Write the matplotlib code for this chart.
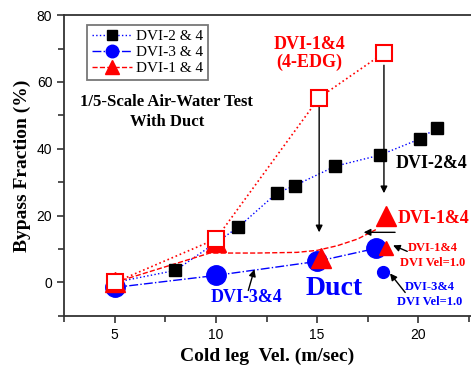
import matplotlib
matplotlib.use('Agg')
import matplotlib.pyplot as plt
from matplotlib.lines import Line2D
from matplotlib.ticker import MultipleLocator

# data
x_24 = [5, 8, 11.1, 13, 13.9, 15.9, 18.1, 20.1, 20.9]
y_24 = [0, 3.6, 16.5, 26.7, 29, 34.8, 38.1, 43, 46.3]

x_34 = [5, 10, 15, 17.9]
y_34 = [-1.5, 2.1, 6.3, 10.2]

x_14 = [5, 10, 15.2, 18.4]
y_14 = [0, 12, 7.3, 19.8]
# hand-drawn trend curve for DVI-1&4
fit14_x = [5, 9.7, 12, 14, 15, 16, 17, 17.9]
fit14_y = [0, 8.8, 8.8, 9.0, 9.6, 11, 13, 15.8]

x_edg = [5, 10, 15.1, 18.3]
y_edg = [0, 13, 55.3, 68.7]

# single points at DVI Vel=1.0
x_14v, y_14v = [18.4], [10.2]
x_34v, y_34v = [18.25], [3]

serif = 'Liberation Serif'

fig = plt.figure(figsize=(4.71, 3.69), dpi=100)
ax = fig.add_axes([0.136, 0.144, 0.864, 0.815])

# lines
ax.plot(x_24, y_24, ':', color='blue', lw=1, zorder=2)
ax.plot(x_34, y_34, '-.', color='blue', lw=1, zorder=2)
ax.plot(fit14_x, fit14_y, '--', color='red', lw=1, zorder=2)
ax.plot(x_edg, y_edg, ':', color='red', lw=1.2, zorder=2)

# markers
ax.plot(x_34, y_34, 'o', color='blue', ms=14, ls='none', zorder=3)
ax.plot(x_34v, y_34v, 'o', color='blue', ms=8.5, ls='none', zorder=3)
ax.plot(x_14, y_14, '^', color='red', ms=15, ls='none', zorder=4)
ax.plot(x_14v, y_14v, '^', color='red', ms=10, ls='none', zorder=4)
ax.plot(x_24, y_24, 's', color='black', ms=9, ls='none', zorder=4)
ax.plot(x_edg, y_edg, 's', mfc='white', mec='red', mew=1.5, ms=12, ls='none', zorder=5)

ax.set_xlim(2.5, 22.6)
ax.set_ylim(-10, 80)
ax.xaxis.set_major_locator(MultipleLocator(5))
ax.xaxis.set_minor_locator(MultipleLocator(2.5))
ax.yaxis.set_major_locator(MultipleLocator(20))
ax.yaxis.set_minor_locator(MultipleLocator(10))
ax.tick_params(which='both', direction='out', top=False, right=False, width=1.2, color='#333333')
ax.tick_params(which='major', length=5, labelsize=10)
ax.tick_params(which='minor', length=4)
for lab in ax.get_xticklabels() + ax.get_yticklabels():
    lab.set_family('Liberation Sans')
ax.spines['right'].set_visible(False)
for s in ['left', 'bottom', 'top']:
    ax.spines[s].set_linewidth(1.3)
    ax.spines[s].set_color('#333333')

ax.set_xlabel('Cold leg  Vel. (m/sec)', family=serif, fontweight='bold', fontsize=14)
ax.set_ylabel('Bypass Fraction (%)', family=serif, fontweight='bold', fontsize=14, labelpad=4)

# legend
handles = [
    Line2D([], [], ls=':', color='blue', lw=1, marker='s', mfc='black', mec='black', ms=7),
    Line2D([], [], ls='-.', color='blue', lw=1, marker='o', mfc='blue', mec='blue', ms=9),
    Line2D([], [], ls='--', color='red', lw=1, marker='^', mfc='red', mec='red', ms=10),
]
leg = ax.legend(handles, ['DVI-2 & 4', 'DVI-3 & 4', 'DVI-1 & 4'], loc='upper left',
                bbox_to_anchor=(0.057, 0.967), borderaxespad=0, fancybox=False,
                prop={'family': serif, 'size': 11}, handlelength=2.6, handletextpad=0.3,
                labelspacing=0.15, borderpad=0.3)
leg.get_frame().set_edgecolor('#555555')
leg.get_frame().set_linewidth(1.3)

# texts
ax.text(14.6, 68.5, 'DVI-1&4\n(4-EDG)', color='red', family=serif, fontweight='bold',
        fontsize=13, ha='center', va='center', linespacing=1.1)
ax.text(7.57, 51, '1/5-Scale Air-Water Test\nWith Duct', color='black', family=serif,
        fontweight='bold', fontsize=12, ha='center', va='center', linespacing=1.3)
ax.text(18.9, 35.7, 'DVI-2&4', color='black', family=serif, fontweight='bold',
        fontsize=13, ha='left', va='center')
ax.text(19.0, 19, 'DVI-1&4', color='red', family=serif, fontweight='bold',
        fontsize=13, ha='left', va='center')
ax.text(20.7, 8.1, 'DVI-1&4\nDVI Vel=1.0', color='red', family=serif, fontweight='bold',
        fontsize=9, ha='center', va='center', linespacing=1.4)
ax.text(20.55, -3.6, 'DVI-3&4\nDVI Vel=1.0', color='blue', family=serif, fontweight='bold',
        fontsize=9, ha='center', va='center', linespacing=1.4)
ax.text(15.85, -1.8, 'Duct', color='blue', family=serif, fontweight='bold',
        fontsize=20, ha='center', va='center')
ax.text(11.5, -4.5, 'DVI-3&4', color='blue', family=serif, fontweight='bold',
        fontsize=13, ha='center', va='center')

# arrows
arr = dict(arrowstyle='-|>', color='black', lw=1, mutation_scale=10, shrinkA=0, shrinkB=0)
ax.annotate('', xy=(15.1, 15), xytext=(15.1, 52.5), arrowprops=arr)
ax.annotate('', xy=(18.3, 26.7), xytext=(18.3, 65), arrowprops=arr)
ax.annotate('', xy=(17.3, 15), xytext=(18.85, 15), arrowprops=arr)
ax.annotate('', xy=(18.75, 11.1), xytext=(19.45, 9.3), arrowprops=arr)
ax.annotate('', xy=(18.6, 2.7), xytext=(19.35, -3), arrowprops=arr)
ax.annotate('', xy=(11.9, 3.9), xytext=(11.6, -2.4), arrowprops=arr)

fig.savefig('out.png', dpi=100)
